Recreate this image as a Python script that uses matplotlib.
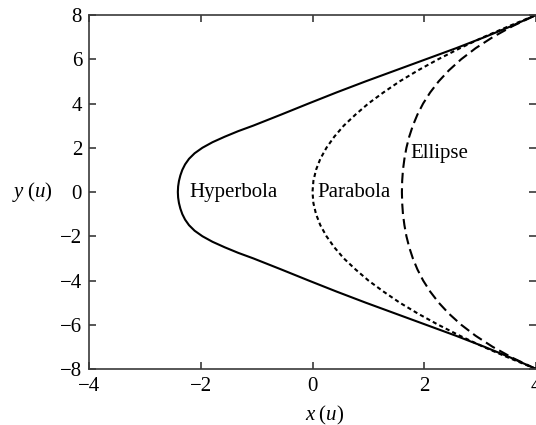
import matplotlib
matplotlib.use("Agg")
import matplotlib.pyplot as plt

plt.rcParams["font.family"] = ["Liberation Serif", "DejaVu Serif"]
plt.rcParams["mathtext.fontset"] = "custom"
plt.rcParams["mathtext.it"] = "Liberation Serif:italic"
plt.rcParams["mathtext.rm"] = "Liberation Serif"

# Upper halves of the trajectories (y >= 0); each lower half is the mirror image.
y_hyperbola_half = [0.0, 0.25, 0.5, 0.75, 1.0, 1.25, 1.5, 1.75, 2.0, 2.25, 2.5,
                    2.75, 3.0, 3.5, 4.0, 4.5, 5.0, 5.5, 6.0, 6.5, 7.0, 7.5, 8.0]
x_hyperbola_half = [-2.41, -2.405, -2.39, -2.365, -2.33, -2.28, -2.21, -2.11,
                    -1.97, -1.79, -1.57, -1.33, -1.06, -0.56, -0.07, 0.43, 0.95,
                    1.49, 2.03, 2.57, 3.08, 3.56, 4.0]

y_conic_half = [0.0, 0.5, 1.0, 1.5, 2.0, 2.5, 3.0, 3.5, 4.0,
                4.5, 5.0, 5.5, 6.0, 6.5, 7.0, 7.5, 8.0]
x_parabola_half = [0.0, 0.016, 0.063, 0.14, 0.25, 0.39, 0.56, 0.77, 1.0,
                   1.27, 1.56, 1.89, 2.25, 2.64, 3.06, 3.52, 4.0]
x_ellipse_half = [1.600, 1.605, 1.619, 1.645, 1.681, 1.731, 1.796, 1.878, 1.980,
                  2.106, 2.258, 2.442, 2.661, 2.920, 3.226, 3.583, 4.0]

x_ticks = [-4, -2, 0, 2, 4]
y_ticks = [-8, -6, -4, -2, 0, 2, 4, 6, 8]


def mirrored(xs, ys):
    x_full = list(reversed(xs[1:])) + list(xs)
    y_full = [-v for v in reversed(ys[1:])] + list(ys)
    return x_full, y_full


fig = plt.figure(figsize=(5.36, 4.25), dpi=100)
ax = fig.add_axes([89 / 536, 56 / 425, 447 / 536, 354 / 425])

lw = 1.5
xh, yh = mirrored(x_hyperbola_half, y_hyperbola_half)
xp, yp = mirrored(x_parabola_half, y_conic_half)
xe, ye = mirrored(x_ellipse_half, y_conic_half)
ax.plot(xh, yh, color="black", lw=lw, solid_joinstyle="round")
ax.plot(xp, yp, color="black", lw=lw, linestyle=(0, (2.0, 1.5)))
ax.plot(xe, ye, color="black", lw=lw, linestyle=(0, (5.0, 2.4)))

ax.text(-2.2, -0.21, "Hyperbola", fontsize=15, va="baseline", ha="left")
ax.text(0.08, -0.21, "Parabola", fontsize=15, va="baseline", ha="left")
ax.text(1.76, 1.52, "Ellipse", fontsize=15, va="baseline", ha="left")

ax.set_xlim(-4, 4)
ax.set_ylim(-8, 8)
ax.set_xticks(x_ticks)
ax.set_yticks(y_ticks)

spine_color = "#3a3a3a"
for side in ["left", "bottom", "top"]:
    ax.spines[side].set_color(spine_color)
    ax.spines[side].set_linewidth(1.2)
ax.spines["right"].set_visible(False)
ax.tick_params(axis="both", direction="in", length=5, width=1.2,
               color=spine_color, labelsize=15, top=True, right=True)
ax.tick_params(axis="x", pad=6)
ax.tick_params(axis="y", pad=5)

fig.text(12 / 536, 1 - 197 / 425, r"$y\;(u)$", fontsize=15,
         ha="left", va="baseline")
fig.text(305 / 536, 1 - 420 / 425, r"$x\;(u)$", fontsize=15,
         ha="left", va="baseline")

fig.savefig("out.png", dpi=100)
